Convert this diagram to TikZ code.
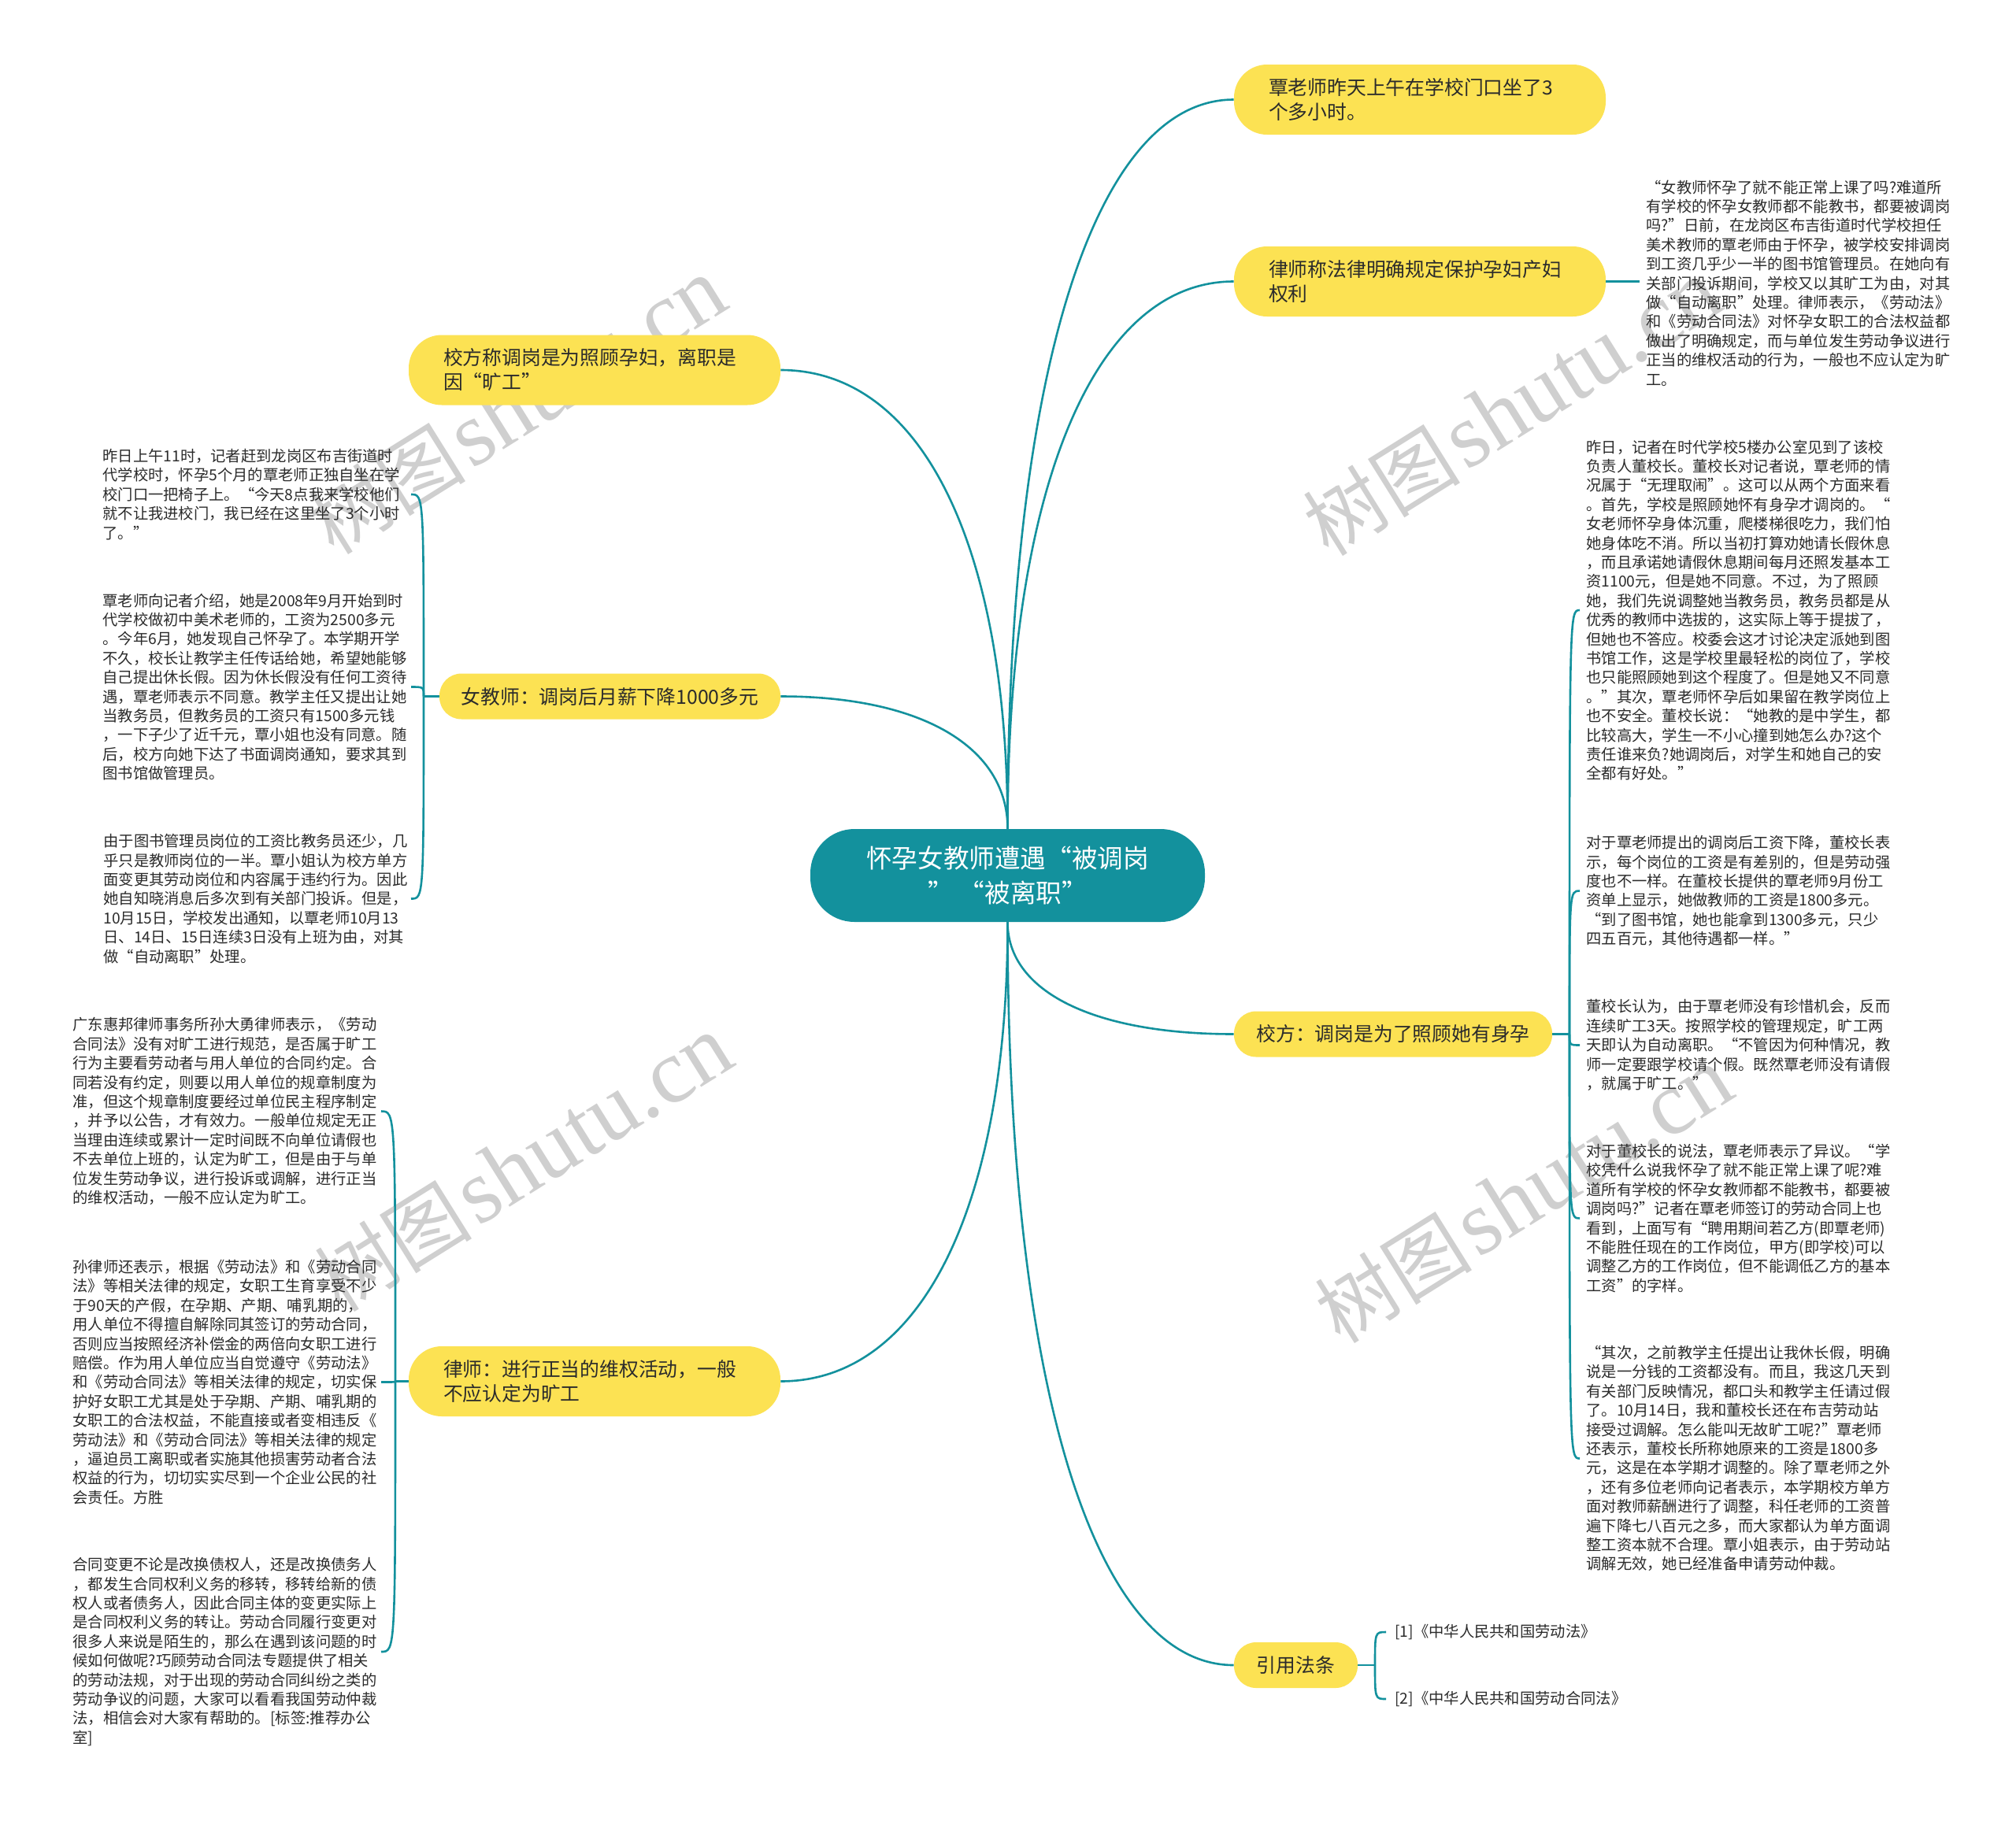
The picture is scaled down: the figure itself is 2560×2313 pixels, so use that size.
\documentclass[tikz,border=0pt]{standalone}
\usepackage{fontspec}
\usetikzlibrary{calc}
\newfontfamily\cjk{Noto Sans CJK SC}
\newfontfamily\wmlatin{Liberation Serif}
\definecolor{tealc}{HTML}{13919D}
\definecolor{yelc}{HTML}{FCE253}
\definecolor{wmc}{HTML}{CFCFCF}
\definecolor{txtc}{HTML}{2B2B2B}
\newcommand\qconn[3]{\coordinate (#3) at (#1 |- #2);\draw[conn] (#1) .. controls ($(#1)!0.62!(#3)$) and ($(#2)!0.62!(#3)$) .. (#2);}
\newcommand\bconn[2]{\draw[conn] (#1) .. controls (#1 |- #2) .. (#2);}
\newcommand\wmtext{{\cjk\fontsize{50pt}{54pt}\selectfont 树图} {\wmlatin\fontsize{58pt}{62pt}\selectfont shutu.cn}}
\begin{document}
\begin{tikzpicture}[x=0.5pt,y=-0.5pt,
 conn/.style={draw=tealc,line width=1.3pt},
 ybox/.style={fill=yelc,inner ysep=0pt,text=txtc,font=\cjk\fontsize{12.4pt}{15.5pt}\selectfont},
 ytwo/.style={ybox,rounded corners=21pt,align=left,text width=192pt,inner xsep=22pt,minimum height=44.5pt},
 yone/.style={ybox,rounded corners=14pt,align=center,inner xsep=0pt,minimum height=29pt},
 body/.style={inner sep=0pt,align=left,anchor=west,text=txtc,font=\cjk\fontsize{9.65pt}{12.2pt}\selectfont},
 wm/.style={text=wmc,rotate=32,inner sep=0pt}
]
\useasboundingbox (0,0) rectangle (2560,2313);
\fill[white] (0,0) rectangle (2560,2313);

% watermarks
\node[wm] (wm1) at (657,516) {\wmtext};
\node[wm] (wm2) at (1920,518) {\wmtext};
\node[wm] (wm3) at (665,1478) {\wmtext};
\node[wm] (wm4) at (1935,1518) {\wmtext};

% central node
\node[fill=tealc,rounded corners=28pt,minimum width=250.5pt,minimum height=59pt,inner sep=0pt,align=center,text=white,font=\cjk\fontsize{16.3pt}{22pt}\selectfont] (c) at (1279.5,1112) {怀孕女教师遭遇“被调岗\\” “被离职”};

% main topics
\node[ytwo] (r1) at (1803,126.5) {覃老师昨天上午在学校门口坐了3\\个多小时。};
\node[ytwo] (r2) at (1803,357.5) {律师称法律明确规定保护孕妇产妇\\权利};
\node[yone,minimum width=202pt] (r3) at (1769,1313.5) {校方：调岗是为了照顾她有身孕};
\node[yone,minimum width=78.5pt] (r4) at (1645.5,2115) {引用法条};
\node[ytwo] (l1) at (755,470) {校方称调岗是为照顾孕妇，离职是\\因“旷工”};
\node[yone,minimum width=216.5pt] (l2) at (774.5,884.5) {女教师：调岗后月薪下降1000多元};
\node[ytwo] (l3) at (755,1754.5) {律师：进行正当的维权活动，一般\\不应认定为旷工};

\qconn{c.north}{r1.west}{k1}
\qconn{c.north}{r2.west}{k2}
\qconn{c.north}{l1.east}{k3}
\qconn{c.north}{l2.east}{k4}
\qconn{c.south}{r3.west}{k5}
\qconn{c.south}{r4.west}{k6}
\qconn{c.south}{l3.east}{k7}

% right text blocks
\node[body] (rb) at (2090,359.5) {“女教师怀孕了就不能正常上课了吗?难道所\\有学校的怀孕女教师都不能教书，都要被调岗\\吗?”日前，在龙岗区布吉街道时代学校担任\\美术教师的覃老师由于怀孕，被学校安排调岗\\到工资几乎少一半的图书馆管理员。在她向有\\关部门投诉期间，学校又以其旷工为由，对其\\做“自动离职”处理。律师表示，《劳动法》\\和《劳动合同法》对怀孕女职工的合法权益都\\做出了明确规定，而与单位发生劳动争议进行\\正当的维权活动的行为，一般也不应认定为旷\\工。};
\coordinate (rbh) at (2082,357.5);
\draw[conn] (r2.east) -- (rbh);

\node[body] (t1) at (2014,775) {昨日，记者在时代学校5楼办公室见到了该校\\负责人董校长。董校长对记者说，覃老师的情\\况属于“无理取闹”。这可以从两个方面来看\\。首先，学校是照顾她怀有身孕才调岗的。“\\女老师怀孕身体沉重，爬楼梯很吃力，我们怕\\她身体吃不消。所以当初打算劝她请长假休息\\，而且承诺她请假休息期间每月还照发基本工\\资1100元，但是她不同意。不过，为了照顾\\她，我们先说调整她当教务员，教务员都是从\\优秀的教师中选拔的，这实际上等于提拔了，\\但她也不答应。校委会这才讨论决定派她到图\\书馆工作，这是学校里最轻松的岗位了，学校\\也只能照顾她到这个程度了。但是她又不同意\\。”其次，覃老师怀孕后如果留在教学岗位上\\也不安全。董校长说：“她教的是中学生，都\\比较高大，学生一不小心撞到她怎么办?这个\\责任谁来负?她调岗后，对学生和她自己的安\\全都有好处。”};
\node[body] (t2) at (2014,1131.5) {对于覃老师提出的调岗后工资下降，董校长表\\示，每个岗位的工资是有差别的，但是劳动强\\度也不一样。在董校长提供的覃老师9月份工\\资单上显示，她做教师的工资是1800多元。\\“到了图书馆，她也能拿到1300多元，只少\\四五百元，其他待遇都一样。”};
\node[body] (t3) at (2014,1327.5) {董校长认为，由于覃老师没有珍惜机会，反而\\连续旷工3天。按照学校的管理规定，旷工两\\天即认为自动离职。“不管因为何种情况，教\\师一定要跟学校请个假。既然覃老师没有请假\\，就属于旷工。”};
\node[body] (t4) at (2014,1547.5) {对于董校长的说法，覃老师表示了异议。“学\\校凭什么说我怀孕了就不能正常上课了呢?难\\道所有学校的怀孕女教师都不能教书，都要被\\调岗吗?”记者在覃老师签订的劳动合同上也\\看到，上面写有“聘用期间若乙方(即覃老师)\\不能胜任现在的工作岗位，甲方(即学校)可以\\调整乙方的工作岗位，但不能调低乙方的基本\\工资”的字样。};
\node[body] (t5) at (2014,1852.5) {“其次，之前教学主任提出让我休长假，明确\\说是一分钱的工资都没有。而且，我这几天到\\有关部门反映情况，都口头和教学主任请过假\\了。10月14日，我和董校长还在布吉劳动站\\接受过调解。怎么能叫无故旷工呢?”覃老师\\还表示，董校长所称她原来的工资是1800多\\元，这是在本学期才调整的。除了覃老师之外\\，还有多位老师向记者表示，本学期校方单方\\面对教师薪酬进行了调整，科任老师的工资普\\遍下降七八百元之多，而大家都认为单方面调\\整工资本就不合理。覃小姐表示，由于劳动站\\调解无效，她已经准备申请劳动仲裁。};

\coordinate (j3) at (1993,1313.5);
\draw[conn] (r3.east) -- (j3);
\coordinate (h31) at ($(t1.west)+(-8,0)$);
\coordinate (h32) at ($(t2.west)+(-8,0)$);
\coordinate (h33) at ($(t3.west)+(-8,0)$);
\coordinate (h34) at ($(t4.west)+(-8,0)$);
\coordinate (h35) at ($(t5.west)+(-8,0)$);
\bconn{j3}{h31}
\bconn{j3}{h32}
\bconn{j3}{h33}
\bconn{j3}{h34}
\bconn{j3}{h35}

% references
\node[body] (ref1) at (1771,2073) {[1]《中华人民共和国劳动法》};
\node[body] (ref2) at (1771,2158) {[2]《中华人民共和国劳动合同法》};
\coordinate (j5) at (1746,2115);
\draw[conn] (r4.east) -- (j5);
\coordinate (h51) at ($(ref1.west)+(-11,0)$);
\coordinate (h52) at ($(ref2.west)+(-11,0)$);
\bconn{j5}{h51}
\bconn{j5}{h52}

% left text blocks (female teacher)
\node[body] (lt1) at (130,628) {昨日上午11时，记者赶到龙岗区布吉街道时\\代学校时，怀孕5个月的覃老师正独自坐在学\\校门口一把椅子上。“今天8点我来学校他们\\就不让我进校门，我已经在这里坐了3个小时\\了。”};
\node[body] (lt2) at (130,872.5) {覃老师向记者介绍，她是2008年9月开始到时\\代学校做初中美术老师的，工资为2500多元\\。今年6月，她发现自己怀孕了。本学期开学\\不久，校长让教学主任传话给她，希望她能够\\自己提出休长假。因为休长假没有任何工资待\\遇，覃老师表示不同意。教学主任又提出让她\\当教务员，但教务员的工资只有1500多元钱\\，一下子少了近千元，覃小姐也没有同意。随\\后，校方向她下达了书面调岗通知，要求其到\\图书馆做管理员。};
\node[body] (lt3) at (131,1141.5) {由于图书管理员岗位的工资比教务员还少，几\\乎只是教师岗位的一半。覃小姐认为校方单方\\面变更其劳动岗位和内容属于违约行为。因此\\她自知晓消息后多次到有关部门投诉。但是，\\10月15日，学校发出通知，以覃老师10月13\\日、14日、15日连续3日没有上班为由，对其\\做“自动离职”处理。};
\coordinate (j2) at (538,884.5);
\draw[conn] (l2.west) -- (j2);
\coordinate (h21) at (522,628);
\coordinate (h22) at (522,872.5);
\coordinate (h23) at (522,1141.5);
\bconn{j2}{h21}
\bconn{j2}{h22}
\bconn{j2}{h23}

% left text blocks (lawyer)
\node[body] (ll1) at (92,1411.5) {广东惠邦律师事务所孙大勇律师表示，《劳动\\合同法》没有对旷工进行规范，是否属于旷工\\行为主要看劳动者与用人单位的合同约定。合\\同若没有约定，则要以用人单位的规章制度为\\准，但这个规章制度要经过单位民主程序制定\\，并予以公告，才有效力。一般单位规定无正\\当理由连续或累计一定时间既不向单位请假也\\不去单位上班的，认定为旷工，但是由于与单\\位发生劳动争议，进行投诉或调解，进行正当\\的维权活动，一般不应认定为旷工。};
\node[body] (ll2) at (92,1755.5) {孙律师还表示，根据《劳动法》和《劳动合同\\法》等相关法律的规定，女职工生育享受不少\\于90天的产假，在孕期、产期、哺乳期的，\\用人单位不得擅自解除同其签订的劳动合同，\\否则应当按照经济补偿金的两倍向女职工进行\\赔偿。作为用人单位应当自觉遵守《劳动法》\\和《劳动合同法》等相关法律的规定，切实保\\护好女职工尤其是处于孕期、产期、哺乳期的\\女职工的合法权益，不能直接或者变相违反《\\劳动法》和《劳动合同法》等相关法律的规定\\，逼迫员工离职或者实施其他损害劳动者合法\\权益的行为，切切实实尽到一个企业公民的社\\会责任。方胜};
\node[body] (ll3) at (92,2098) {合同变更不论是改换债权人，还是改换债务人\\，都发生合同权利义务的移转，移转给新的债\\权人或者债务人，因此合同主体的变更实际上\\是合同权利义务的转让。劳动合同履行变更对\\很多人来说是陌生的，那么在遇到该问题的时\\候如何做呢?巧顾劳动合同法专题提供了相关\\的劳动法规，对于出现的劳动合同纠纷之类的\\劳动争议的问题，大家可以看看我国劳动仲裁\\法，相信会对大家有帮助的。[标签:推荐办公\\室]};
\coordinate (j4) at (502,1754.5);
\draw[conn] (l3.west) -- (j4);
\coordinate (h41) at (484,1411.5);
\coordinate (h42) at (484,1755.5);
\coordinate (h43) at (484,2098);
\bconn{j4}{h41}
\bconn{j4}{h42}
\bconn{j4}{h43}
\end{tikzpicture}
\end{document}
